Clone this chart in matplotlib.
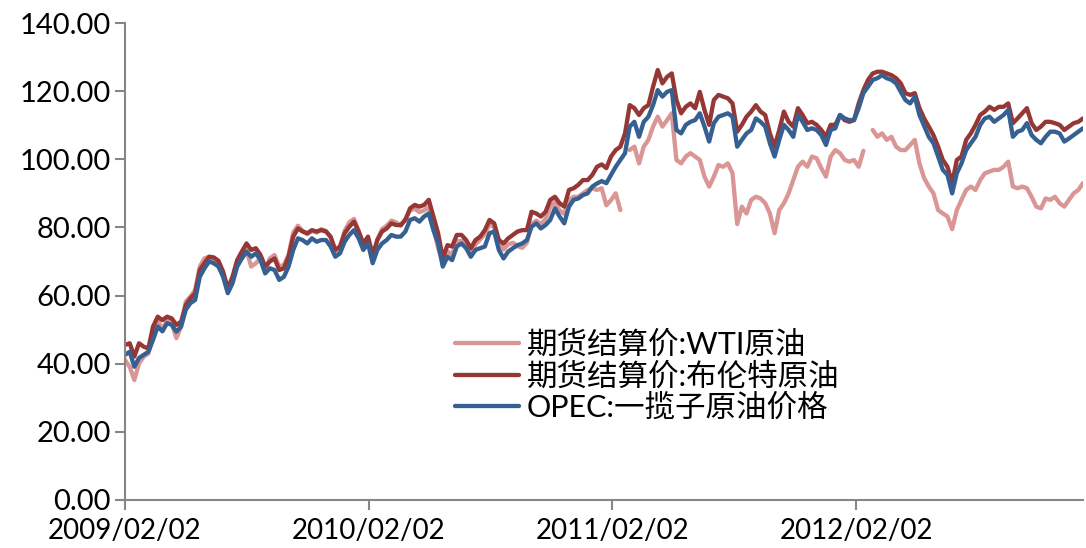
import matplotlib
matplotlib.use("Agg")
import matplotlib.pyplot as plt
import matplotlib.dates as mdates
import numpy as np
import pandas as pd

# weekly readings, first week 2009/02/02
start_date = "2009-02-02"

wti = [
    41.1, 39.1, 35.2, 40.1, 42.1, 43.0, 47.9, 52.8, 49.9, 52.8,
    51.9, 47.5, 50.9, 58.2, 59.7, 61.6, 68.5, 70.9, 71.4, 69.5,
    70.0, 66.0, 61.1, 64.1, 69.5, 70.9, 73.4, 68.5, 69.5, 70.9,
    67.5, 70.9, 71.9, 68.5, 69.0, 72.0, 78.5, 80.5, 79.0, 78.0,
    79.0, 78.5, 79.5, 79.0, 77.0, 72.5, 74.0, 79.0, 81.5, 82.5,
    79.0, 74.5, 77.0, 70.5, 76.5, 79.5, 80.5, 82.0, 81.5, 80.5,
    82.5, 85.0, 85.5, 84.5, 85.0, 86.0, 80.0, 74.0, 70.0, 73.0,
    72.0, 76.0, 76.0, 75.0, 72.0, 75.0, 76.5, 78.0, 81.0, 80.0,
    75.5, 73.5, 75.0, 75.5, 74.5, 74.0, 75.5, 81.0, 82.0, 81.0,
    82.5, 86.0, 87.5, 85.0, 84.0, 88.0, 89.0, 89.0, 90.0, 91.0,
    91.5, 91.0, 91.5, 86.5, 88.0, 90.0, 85.1, np.nan, 102.7, 103.7,
    98.8, 103.7, 105.7, 109.6, 112.5, 109.6, 111.5, 113.5, 99.8, 98.8,
    100.8, 101.8, 100.8, 99.8, 94.9, 92.0, 94.9, 98.3, 97.8, 98.8,
    95.9, 81.0, 86.1, 84.1, 88.1, 89.0, 88.5, 87.1, 84.1, 78.3,
    85.1, 87.1, 90.0, 93.9, 97.8, 99.3, 97.8, 100.8, 100.3, 97.4,
    94.9, 100.8, 102.7, 101.8, 99.8, 99.3, 99.8, 97.8, 102.5, np.nan,
    108.6, 106.6, 107.6, 105.7, 106.6, 103.7, 102.7, 102.7, 104.2, 105.7,
    98.8, 94.5, 92.0, 90.0, 85.1, 84.1, 83.2, 79.5, 85.1, 88.1,
    91.0, 92.0, 91.0, 93.9, 95.9, 96.4, 96.9, 96.9, 97.8, 99.3,
    92.0, 91.5, 92.0, 91.5, 89.0, 86.1, 85.6, 88.5, 88.1, 89.0,
    87.1, 86.1, 88.1, 90.0, 91.0, 93.0,
]

brent = [
    45.5, 46.0, 42.1, 46.0, 45.0, 44.5, 50.9, 53.8, 52.8, 53.8,
    53.3, 51.4, 52.3, 57.2, 59.2, 60.7, 67.5, 69.5, 71.4, 71.2,
    70.2, 67.0, 62.1, 65.5, 70.4, 72.9, 75.3, 73.4, 73.9, 71.9,
    68.5, 70.0, 70.9, 67.5, 68.0, 71.4, 77.3, 79.7, 78.8, 78.3,
    79.2, 78.8, 79.2, 78.8, 77.3, 73.4, 74.4, 78.3, 80.2, 81.7,
    78.8, 75.3, 77.3, 71.9, 76.3, 78.8, 79.7, 81.2, 80.7, 80.7,
    82.2, 85.6, 86.6, 86.1, 86.6, 88.1, 83.2, 78.3, 71.0, 74.8,
    74.4, 77.8, 77.8, 76.3, 73.9, 76.3, 77.3, 79.2, 82.2, 81.2,
    76.3, 75.3, 76.8, 77.8, 78.8, 79.2, 79.2, 84.6, 84.1, 83.2,
    84.6, 88.1, 89.0, 87.1, 86.1, 91.0, 91.5, 92.5, 93.9, 93.9,
    95.4, 97.8, 98.5, 97.4, 100.8, 102.7, 103.7, 107.6, 115.9, 115.0,
    113.0, 115.0, 115.9, 121.3, 126.2, 122.3, 124.2, 125.2, 117.4, 113.5,
    115.4, 116.4, 115.0, 119.8, 114.5, 110.1, 117.4, 118.9, 118.4, 117.9,
    116.4, 108.1, 110.1, 112.5, 114.0, 115.9, 114.0, 113.0, 107.6, 103.7,
    108.6, 114.0, 111.0, 109.6, 115.0, 113.0, 110.6, 111.0, 110.1, 108.6,
    106.6, 110.1, 110.1, 113.0, 111.5, 111.0, 111.5, 116.4, 120.3, 123.3,
    125.2, 125.7, 125.7, 125.2, 124.7, 123.8, 122.3, 119.4, 118.9, 119.4,
    115.0, 112.0, 109.6, 107.1, 103.7, 99.8, 97.8, 93.0, 99.8, 100.8,
    105.7, 107.6, 110.1, 113.0, 114.0, 115.4, 114.5, 115.4, 115.4, 116.4,
    110.6, 112.0, 113.5, 115.0, 110.6, 108.6, 109.6, 111.0, 111.0, 110.6,
    110.1, 108.6, 109.6, 110.6, 111.0, 112.0,
]

opec = [
    42.6, 43.5, 39.1, 41.7, 42.6, 43.5, 47.0, 50.9, 49.5, 51.9,
    51.4, 49.4, 50.9, 55.8, 57.8, 58.7, 65.5, 68.0, 70.0, 69.5,
    68.5, 65.5, 60.7, 63.6, 68.5, 70.9, 72.9, 71.4, 72.4, 70.4,
    66.5, 68.0, 67.5, 64.6, 65.5, 68.5, 73.4, 76.8, 76.3, 75.3,
    76.8, 75.8, 76.3, 76.3, 74.4, 71.4, 72.4, 75.8, 77.8, 79.2,
    76.8, 73.4, 75.3, 69.5, 73.4, 75.3, 76.3, 77.8, 77.3, 77.3,
    78.8, 82.2, 82.7, 81.7, 83.2, 84.1, 79.2, 75.3, 68.5, 71.4,
    70.4, 74.4, 75.3, 73.9, 71.4, 73.4, 73.9, 74.4, 78.3, 78.8,
    73.4, 70.9, 72.9, 73.9, 74.8, 75.3, 76.3, 80.2, 81.2, 79.7,
    80.7, 82.2, 85.6, 83.2, 81.2, 86.1, 88.1, 88.5, 89.5, 90.0,
    92.0, 92.9, 93.6, 93.0, 95.4, 97.8, 99.8, 101.8, 109.6, 111.0,
    106.6, 111.0, 112.5, 115.9, 120.3, 118.4, 119.8, 120.3, 108.6, 107.6,
    110.1, 111.0, 111.5, 113.5, 109.6, 105.2, 110.6, 112.5, 113.0, 113.5,
    112.5, 103.7, 105.7, 107.6, 108.6, 112.0, 111.0, 109.6, 104.7, 100.8,
    105.7, 110.1, 108.6, 106.6, 113.0, 111.0, 108.6, 109.1, 108.6, 107.1,
    104.2, 108.6, 109.1, 113.0, 112.0, 111.5, 111.5, 115.0, 119.4, 121.3,
    123.3, 123.8, 124.7, 123.8, 123.3, 122.3, 119.8, 117.4, 116.4, 118.4,
    113.0, 109.8, 106.6, 104.7, 100.8, 96.9, 95.4, 90.0, 95.9, 98.8,
    102.7, 104.7, 106.6, 110.1, 112.0, 112.5, 111.0, 112.0, 113.0, 114.5,
    106.6, 108.1, 108.6, 110.6, 107.1, 105.7, 104.7, 106.6, 108.1, 108.1,
    107.6, 105.2, 106.1, 107.1, 108.1, 109.1,
]

labels = ["期货结算价:WTI原油", "期货结算价:布伦特原油", "OPEC:一揽子原油价格"]
colors = ["#D99694", "#953735", "#376092"]
tick_dates = ["2009-02-02", "2010-02-02", "2011-02-02", "2012-02-02"]


def make_chart():
    plt.rcParams["font.family"] = ["Lato", "Noto Sans CJK SC", "DejaVu Sans"]
    dates = pd.date_range(start_date, periods=len(opec), freq="7D")

    fig = plt.figure(figsize=(10.86, 5.48), dpi=100)
    ax = fig.add_axes([125 / 1086, 48 / 548, 958 / 1086, 477 / 548])

    for series, label, color in zip([wti, brent, opec], labels, colors):
        ax.plot(dates, series, color=color, lw=3.1, label=label,
                solid_joinstyle="round", solid_capstyle="round")

    ax.set_xlim(dates[0], dates[-1])
    ax.set_ylim(0, 140)
    ax.set_yticks(range(0, 141, 20))
    ax.yaxis.set_major_formatter(plt.FuncFormatter(lambda v, p: "%.2f" % v))
    ax.set_xticks(pd.to_datetime(tick_dates))
    ax.xaxis.set_major_formatter(mdates.DateFormatter("%Y/%m/%d"))

    for side in ["top", "right"]:
        ax.spines[side].set_visible(False)
    for side in ["left", "bottom"]:
        ax.spines[side].set_color("#868686")
        ax.spines[side].set_linewidth(1.5)
    ax.tick_params(axis="both", direction="out", length=7, width=1.5,
                   color="#868686", labelsize=20, labelcolor="black")
    ax.tick_params(axis="y", pad=3, labelsize=21)
    ax.tick_params(axis="x", pad=6)

    ax.legend(loc="center left", bbox_to_anchor=(455 / 1086, 1 - 376 / 548),
              bbox_transform=fig.transFigure, frameon=False, fontsize=22,
              handlelength=2.1, handletextpad=0.25, labelspacing=0.1,
              borderpad=0, borderaxespad=0)
    return fig


fig = make_chart()
fig.savefig("out.png", dpi=100)
